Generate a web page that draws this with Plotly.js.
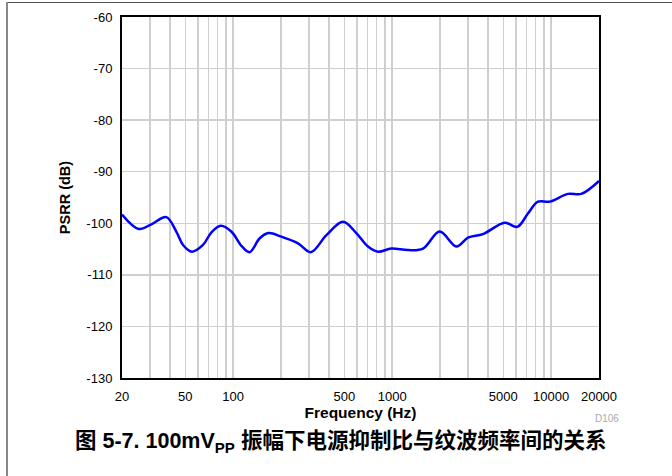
<!DOCTYPE html>
<html>
<head>
<meta charset="utf-8">
<script src="https://cdn.plot.ly/plotly-3.0.1.min.js"></script>
<style>
  html, body { margin: 0; padding: 0; background: #fff; }
  #wrap { position: relative; width: 672px; height: 476px; overflow: hidden; }
  #chart { position: absolute; left: 0; top: 0; width: 672px; height: 476px; }
  #frameTop { position: absolute; left: 7px; top: 2px; width: 665px; height: 0; border-top: 1.5px solid #555; }
  #frameLeft { position: absolute; left: 6px; top: 2px; width: 0; height: 474px; border-left: 2px solid #888; }
</style>
</head>
<body>
<div id="wrap">
  <div id="chart"></div>
  <div id="frameTop"></div>
  <div id="frameLeft"></div>
</div>
<script>
// Data
const frequencyHz = [20, 25.5, 30.6, 38, 43.9, 48.4, 55.1, 64.6, 72.9, 83.5, 97.3, 113.6, 127, 147, 167, 201, 256, 308, 386, 491, 595, 705, 815, 988, 1258, 1564, 1991, 2535, 3000, 3725, 5106, 6125, 7146, 8260, 9795, 12768, 15482, 20000];
const psrrDb = [-98.3, -101.1, -100.2, -98.8, -101.6, -104.2, -105.5, -104.2, -101.8, -100.5, -101.6, -104.5, -105.6, -102.9, -101.9, -102.6, -103.9, -105.6, -102.3, -99.7, -101.9, -104.5, -105.5, -104.9, -105.2, -104.9, -101.6, -104.5, -102.8, -102.1, -99.9, -100.7, -98.1, -95.8, -95.8, -94.3, -94.3, -91.8];

// Tick labels and gridline positions
const xTickVals = [20, 50, 100, 500, 1000, 5000, 10000, 20000];
const xTickText = ['20', '50', '100', '500', '1000', '5000', '10000', '20000'];
const xMinorGrid = [30, 40, 60, 70, 80, 90, 200, 300, 400, 600, 700, 800, 900, 2000, 3000, 4000, 6000, 7000, 8000, 9000];
const yTickVals = [-130, -120, -110, -100, -90, -80, -70, -60];
const yTickText = ['-130', '-120', '-110', '-100', '-90', '-80', '-70', '-60'];

const xTitle = 'Frequency (Hz)';
const yTitle = 'PSRR (dB)';
const caption = '图 5-7. 100mV<sub>PP</sub> 振幅下电源抑制比与纹波频率间的关系';
const figId = 'D106';

const baseFont = "'Liberation Sans', Arial, Helvetica, sans-serif";
const capFont = "'Liberation Sans', 'Noto Sans CJK SC', sans-serif";
const gridColor = '#cfcfcf';

const trace = {
  x: frequencyHz,
  y: psrrDb,
  type: 'scatter',
  mode: 'lines',
  line: { color: '#0000ff', width: 2.5, shape: 'spline', smoothing: 1 },
  hoverinfo: 'skip'
};

const layout = {
  width: 672,
  height: 476,
  margin: { l: 122, r: 73, t: 17, b: 98, pad: 0 },
  paper_bgcolor: '#ffffff',
  plot_bgcolor: '#ffffff',
  showlegend: false,
  font: { family: baseFont, size: 13, color: '#000' },
  xaxis: {
    type: 'log',
    range: [Math.log10(20), Math.log10(20000)],
    tickmode: 'array',
    tickvals: xTickVals,
    ticktext: xTickText,
    ticks: '',
    ticklabelstandoff: 5,
    tickfont: { family: baseFont, size: 13, color: '#000' },
    showgrid: true,
    gridcolor: gridColor,
    gridwidth: 1.5,
    minor: { tickmode: 'array', tickvals: xMinorGrid, showgrid: true, gridcolor: gridColor, gridwidth: 1.5, ticks: '' },
    showline: true,
    linecolor: '#000',
    linewidth: 2,
    mirror: true,
    zeroline: false,
    title: { text: '<b>' + xTitle + '</b>', font: { family: baseFont, size: 15.5, color: '#000' }, standoff: 2 }
  },
  yaxis: {
    range: [-130, -60],
    tickmode: 'array',
    tickvals: yTickVals,
    ticktext: yTickText,
    ticks: '',
    ticklabelstandoff: 5,
    tickfont: { family: baseFont, size: 13, color: '#000' },
    showgrid: true,
    gridcolor: gridColor,
    gridwidth: 1.5,
    showline: true,
    linecolor: '#000',
    linewidth: 2,
    mirror: true,
    zeroline: false,
    title: { text: '<b>' + yTitle + '</b>', font: { family: baseFont, size: 14.5, color: '#000' }, standoff: 12 }
  },
  annotations: [
    {
      text: '<b>' + caption + '</b>',
      xref: 'paper', yref: 'paper',
      x: (340 - 122) / 477, y: (476 - 98 - 442) / 361,
      xanchor: 'center', yanchor: 'middle',
      showarrow: false,
      font: { family: capFont, size: 21.5, color: '#000' }
    },
    {
      text: figId,
      xref: 'paper', yref: 'paper',
      x: (621 - 122) / 477, y: (476 - 98 - 418) / 361,
      xanchor: 'right', yanchor: 'middle',
      showarrow: false,
      font: { family: baseFont, size: 10, color: '#aaaaaa' }
    }
  ]
};

Plotly.newPlot('chart', [trace], layout, { staticPlot: true, displayModeBar: false });
</script>
</body>
</html>
